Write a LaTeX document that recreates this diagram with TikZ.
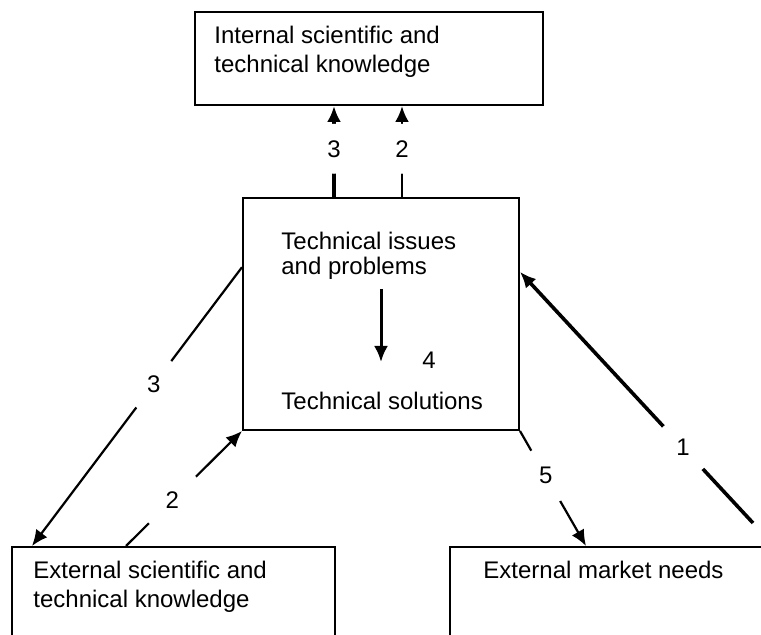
\documentclass[tikz,border=0pt]{standalone}
\usepackage{fontspec}
\setmainfont{Liberation Sans}
\usetikzlibrary{arrows.meta,calc,positioning}

\begin{document}
\begin{tikzpicture}[
  x=0.5pt, y=-0.5pt,
  font=\fontsize{12}{14.5}\selectfont,
  box/.style={draw, line width=1pt, inner sep=0pt},
  txt/.style={anchor=north west, align=left, inner sep=0pt},
  arr/.style={-{Latex[length=8pt, width=7pt]}, line width=1.1pt},
  thickarr/.style={arr, line width=1.8pt},
  gap/.style={circle, fill=white, inner sep=0pt, minimum size=29pt}
]
\useasboundingbox (0,0) rectangle (761,635);
\clip (0,0) rectangle (761,635);

% boxes
\node[box, minimum width=174pt, minimum height=46.5pt] (intk) at (369,58.5) {};
\node[box, minimum width=138pt, minimum height=116pt] (tech) at (381,314) {};
\node[box, minimum width=161.5pt, minimum height=80pt] (extk) at (173.5,627) {};
\node[box, minimum width=185pt, minimum height=80pt] (market) at (635,627) {};

% texts
\node[txt] (intktxt) at ($(intk.north west)+(20,15)$) {Internal scientific and\\technical knowledge};
\node[txt, font=\fontsize{12}{12.5}\selectfont] (issues) at ($(tech.north west)+(39,35)$) {Technical issues\\and problems};
\node[txt] (sol) at ($(tech.north west)+(39,195)$) {Technical solutions};
\node[txt] (exttxt) at ($(extk.north west)+(22,15)$) {External scientific and\\technical knowledge};
\node[txt] (mkttxt) at ($(market.north west)+(34,15)$) {External market needs};

% inside the technical box
\draw[arr, line width=1.5pt] ($(issues.north west)+(100,57)$) -- ($(sol.north west)+(100,-30)$);
\node (four) at ($(sol.north west)+(148,-32)$) {4};

% to the internal knowledge
\coordinate (up3) at ($(tech.north west)+(92,0)$);
\coordinate (up2) at ($(tech.north west)+(160,0)$);
\draw[thickarr] (up3) -- node[gap, pos=0.53, minimum size=25pt] {3} (up3 |- intk.south);
\draw[arr, line width=1.4pt] (up2) -- node[gap, pos=0.53, minimum size=25pt] {2} (up2 |- intk.south);

% external knowledge
\draw[arr] ($(tech.north west)!0.3!(tech.south west)$) -- node[gap, pos=0.42] {3} ($(extk.north west)+(21,0)$);
\draw[arr] ($(extk.north west)+(115,0)$) -- node[gap, pos=0.4, minimum size=33pt] {2} (tech.south west);

% market
\coordinate (needs) at (753,523);
\draw[thickarr] (needs) -- node[gap, pos=0.3] {1} ($(tech.north east)!0.32!(tech.south east)$);
\draw[arr] (tech.south east) -- node[gap, pos=0.39] {5} ($(market.north west)+(137,0)$);
\end{tikzpicture}
\end{document}
